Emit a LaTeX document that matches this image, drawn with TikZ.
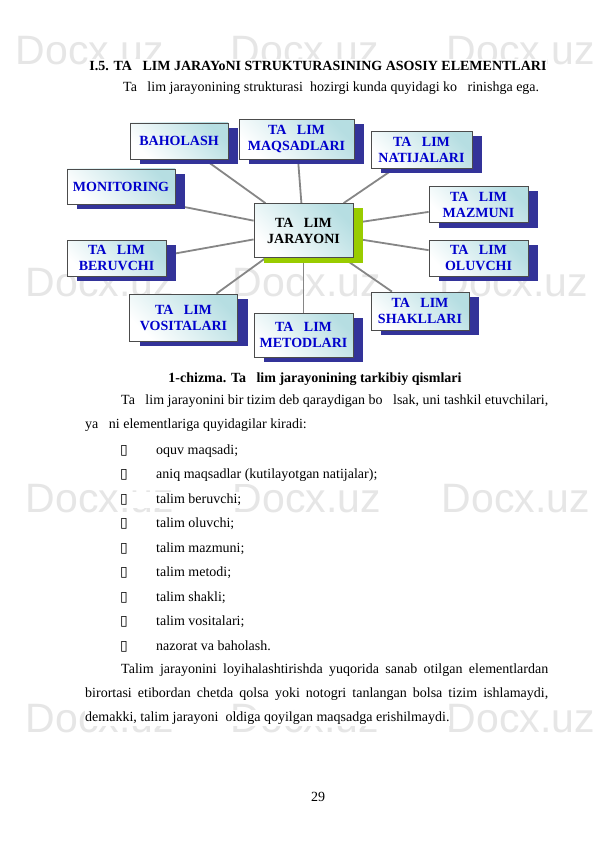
\documentclass[tikz,border=0pt]{standalone}
\usepackage{fontspec}
\setmainfont{Liberation Serif}
\newfontfamily\wmfont{Liberation Sans}
\newfontfamily\symfont{DejaVu Sans}
\usetikzlibrary{shadows}
\usetikzlibrary{backgrounds}

\definecolor{boxteal}{RGB}{182,222,226}
\definecolor{shadowblue}{RGB}{51,51,153}
\definecolor{shadowgreen}{RGB}{153,204,0}
\definecolor{labelblue}{RGB}{0,0,204}
\definecolor{linkgray}{RGB}{134,134,134}
\definecolor{wmgray}{RGB}{230,230,230}
\newcommand{\tgap}{\hspace{0.75em}}

\begin{document}
\begin{tikzpicture}[x=1pt, y=-1pt,
	every node/.style={font=\fontsize{14}{16}\selectfont},
	box/.style={draw=black!70, line width=0.8pt, shade, shading=axis, top color=boxteal, bottom color=white, shading angle=-45,
		align=center, inner sep=2pt, text=labelblue, font=\fontsize{14}{16}\selectfont\bfseries,
		general shadow={fill=#1, shadow xshift=10pt, shadow yshift=-5pt}},
	box/.default=shadowblue,
	link/.style={draw=linkgray, line width=1.8pt},
	wm/.style={font=\wmfont\fontsize{41}{41}\selectfont, text=wmgray, inner sep=0pt},
	bodytext/.style={anchor=west, fill=white, inner xsep=0pt, inner ysep=2pt},
	heading/.style={bodytext, anchor=center, font=\fontsize{14}{16}\selectfont\bfseries},
	]

	\useasboundingbox (0,0) rectangle (595,842);

	\begin{scope}[on background layer]
		\fill[white] (0,0) rectangle (595,842); % page
		\node[wm] (wm11) at (90,51) {Docx.uz}; \node[wm] (wm12) at (305,51) {Docx.uz}; \node[wm] (wm13) at (521,51) {Docx.uz};
		\node[wm] (wm21) at (100,283) {Docx.uz}; \node[wm] (wm22) at (307,283) {Docx.uz}; \node[wm] (wm23) at (514,283) {Docx.uz};
		\node[wm] (wm31) at (100,499) {Docx.uz}; \node[wm] (wm32) at (307,499) {Docx.uz}; \node[wm] (wm33) at (516,499) {Docx.uz};
		\node[wm] (wm41) at (100,719) {Docx.uz}; \node[wm] (wm42) at (305,719) {Docx.uz}; \node[wm] (wm43) at (521,719) {Docx.uz};
	\end{scope}

	\node[heading] (title) at (318,66) {I.5. TA\tgap LIM JARAYoNI STRUKTURASINING ASOSIY ELEMENTLARI};
	\node[bodytext] (intro) at (123,88) {Ta\tgap lim jarayonining strukturasi\ \ hozirgi kunda quyidagi ko\tgap rinishga ega.};

	% boxes
	\node[box, minimum width=98pt, minimum height=36pt] (bah) at (179,141) {BAHOLASH};
	\node[box, minimum width=115pt, minimum height=40pt] (maq) at (296.5,139.5) {TA\tgap LIM\\MAQSADLARI};
	\node[box, minimum width=101pt, minimum height=37pt] (nat) at (421.5,150) {TA\tgap LIM\\NATIJALARI};
	\node[box, minimum width=108pt, minimum height=35pt] (mon) at (121,186.5) {MONITORING};
	\node[box=shadowgreen, text=black, minimum width=99pt, minimum height=54pt] (jar) at (303.5,230.5) {TA\tgap LIM\\JARAYONI};
	\node[box, minimum width=99pt, minimum height=36pt] (maz) at (478.5,204.5) {TA\tgap LIM\\MAZMUNI};
	\node[box, minimum width=99pt, minimum height=36pt] (ber) at (116.5,258) {TA\tgap LIM\\BERUVCHI};
	\node[box, minimum width=99pt, minimum height=36pt] (olu) at (478.5,258) {TA\tgap LIM\\OLUVCHI};
	\node[box, minimum width=108pt, minimum height=47pt] (vos) at (183.5,317.5) {TA\tgap LIM\\VOSITALARI};
	\node[box, minimum width=99pt, minimum height=44pt] (met) at (303.5,335) {TA\tgap LIM\\METODLARI};
	\node[box, minimum width=98pt, minimum height=38pt] (sha) at (420,311) {TA\tgap LIM\\SHAKLLARI};

	\begin{scope}[on background layer]
		\draw[link] (jar) -- (bah);
		\draw[link] (jar) -- (maq);
		\draw[link] (jar) -- (nat);
		\draw[link] (jar) -- ([yshift=-8pt]mon.center);
		\draw[link] (jar) -- (maz);
		\draw[link] (jar) -- ([yshift=-6pt]ber.center);
		\draw[link] (jar) -- (olu);
		\draw[link] (jar) -- (vos);
		\draw[link] (jar) -- (met);
		\draw[link] (jar) -- (sha);
	\end{scope}

	\node[heading] (caption) at (315,379) {1-chizma. Ta\tgap lim jarayonining tarkibiy qismlari};
	\node[bodytext] (p1a) at (121,401) {\makebox[427pt][s]{Ta\tgap lim jarayonini bir tizim deb qaraydigan bo\tgap lsak, uni tashkil etuvchilari,}};
	\node[bodytext] (p1b) at (85,425) {ya\tgap ni elementlariga quyidagilar kiradi:};

	% list
	\node[bodytext] (i1) at (120,451) {\makebox[36pt][l]{\symfont ▯}oquv maqsadi;};
	\node[bodytext] (i2) at (120,475.4) {\makebox[36pt][l]{\symfont ▯}aniq maqsadlar (kutilayotgan natijalar);};
	\node[bodytext] (i3) at (120,499.8) {\makebox[36pt][l]{\symfont ▯}talim beruvchi;};
	\node[bodytext] (i4) at (120,524.2) {\makebox[36pt][l]{\symfont ▯}talim oluvchi;};
	\node[bodytext] (i5) at (120,548.6) {\makebox[36pt][l]{\symfont ▯}talim mazmuni;};
	\node[bodytext] (i6) at (120,573) {\makebox[36pt][l]{\symfont ▯}talim metodi;};
	\node[bodytext] (i7) at (120,597.4) {\makebox[36pt][l]{\symfont ▯}talim shakli;};
	\node[bodytext] (i8) at (120,621.8) {\makebox[36pt][l]{\symfont ▯}talim vositalari;};
	\node[bodytext] (i9) at (120,646.2) {\makebox[36pt][l]{\symfont ▯}nazorat va baholash.};

	\node[bodytext] (p2a) at (121,670) {\makebox[427pt][s]{Talim jarayonini loyihalashtirishda yuqorida sanab otilgan elementlardan}};
	\node[bodytext] (p2b) at (85,694) {\makebox[463pt][s]{birortasi etibordan chetda qolsa yoki notogri tanlangan bolsa tizim ishlamaydi,}};
	\node[bodytext] (p2c) at (85,718) {demakki, talim jarayoni\ \ oldiga qoyilgan maqsadga erishilmaydi.};

	\node[bodytext, anchor=center] (page) at (318,797) {29};

\end{tikzpicture}
\end{document}
